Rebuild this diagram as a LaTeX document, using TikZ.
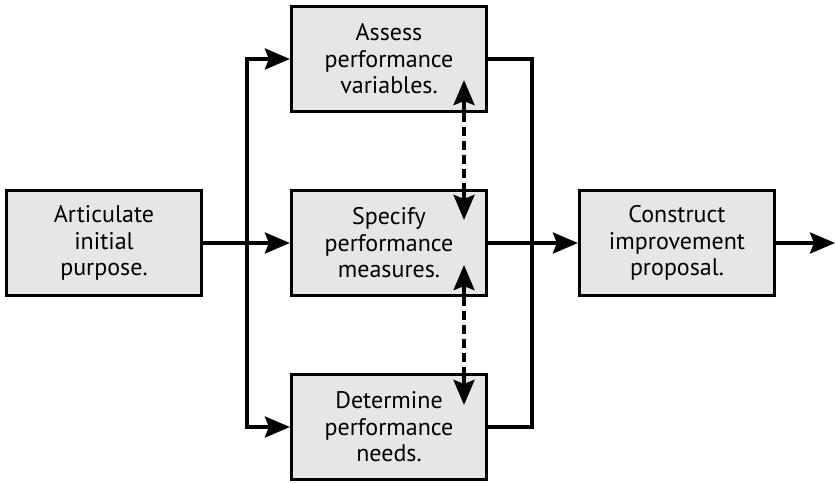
\documentclass[tikz,border=0pt]{standalone}
\usepackage{fontspec}
\setmainfont{PT Sans}
\usetikzlibrary{arrows.meta,calc}
\definecolor{boxfill}{HTML}{E6E6E6}
\tikzset{
  stepbox/.style={draw=black, line width=3.2pt, fill=boxfill, minimum width=195pt, minimum height=105pt,
    inner sep=0pt, align=center, font=\fontsize{24}{26.5}\selectfont},
  conn/.style={line width=3.5pt},
  arr/.style={conn, -{Stealth[length=25pt,width=21pt,inset=4pt]}},
  dsh/.style={line width=3.5pt, dash pattern=on 9pt off 5pt}
}
\begin{document}
\begin{tikzpicture}[x=1pt,y=-1pt]
\useasboundingbox (0,0) rectangle (835,484);
\node[stepbox] (art) at (104,243) {Articulate\\initial\\purpose.};
\node[stepbox] (ass) at (389,59) {Assess\\performance\\variables.};
\node[stepbox] (spe) at (389,243) {Specify\\performance\\measures.};
\node[stepbox] (det) at (389,427) {Determine\\performance\\needs.};
\node[stepbox] (con) at (677,243) {Construct\\improvement\\proposal.};
\coordinate (sp) at (247,243);
\coordinate (mg) at (532,243);
\coordinate (out) at (835,243);
\coordinate (dx) at (464,0);
% split
\draw[arr] (art.east) -- (spe.west);
\draw[arr] (sp) |- (ass.west);
\draw[arr] (sp) |- (det.west);
% merge
\draw[conn] (ass.east) -| (mg);
\draw[conn] (det.east) -| (mg);
\draw[arr] (spe.east) -- (con.west);
\draw[arr] (con.east) -- (out);
% dashed two-way links
\coordinate (a1) at (ass.south -| dx);
\coordinate (s1) at (spe.north -| dx);
\coordinate (s2) at (spe.south -| dx);
\coordinate (d1) at (det.north -| dx);
\draw[dsh] (a1) -- (s1);
\draw[dsh] (s2) -- (d1);
\draw[arr] ($(a1)+(0,1.5)$) -- ($(a1)+(0,-33)$);
\draw[arr] ($(s1)+(0,-1.5)$) -- ($(s1)+(0,31)$);
\draw[arr] ($(s2)+(0,1.5)$) -- ($(s2)+(0,-32)$);
\draw[arr] ($(d1)+(0,-1.5)$) -- ($(d1)+(0,32)$);
\end{tikzpicture}
\end{document}
